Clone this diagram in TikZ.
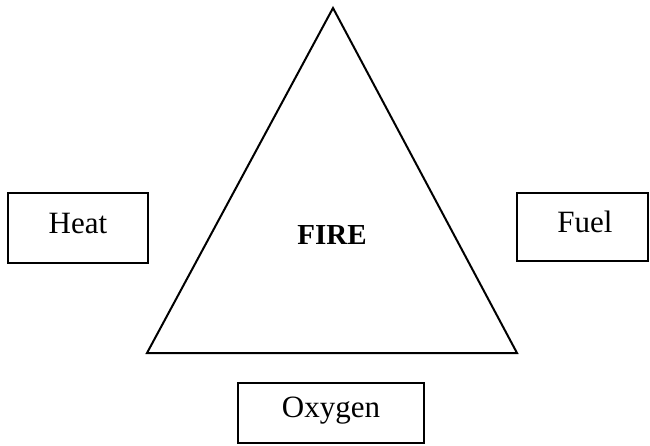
\documentclass[tikz,border=0pt]{standalone}
\usepackage{fontspec}
\setmainfont{Liberation Serif}
\begin{document}
\begin{tikzpicture}[x=1pt,y=-1pt,
  box/.style={draw,line width=2pt,inner sep=0pt},
  lbl/.style={font=\fontsize{31}{34}\selectfont},
  tri/.style={draw,line width=2pt,line join=miter}]
\useasboundingbox (0,0) rectangle (650,445);
\coordinate (apex) at (333,8);
\coordinate (bl) at (147,353);
\coordinate (br) at (517,353);
\draw[tri] (apex) -- (bl) -- (br) -- cycle;
\node[box,minimum width=140pt,minimum height=70pt] (heat) at (78,228) {};
\node[lbl] (heatt) at (78,223) {Heat};
\node[box,minimum width=131pt,minimum height=68pt] (fuel) at (582.5,227) {};
\node[lbl] (fuelt) at (585,222) {Fuel};
\node[box,minimum width=186pt,minimum height=60pt] (oxy) at (331,413) {};
\node[lbl] (oxyt) at (331,411) {Oxygen};
\node[lbl,font=\fontsize{29}{34}\selectfont\bfseries] (fire) at (332,235) {FIRE};
\end{tikzpicture}
\end{document}
